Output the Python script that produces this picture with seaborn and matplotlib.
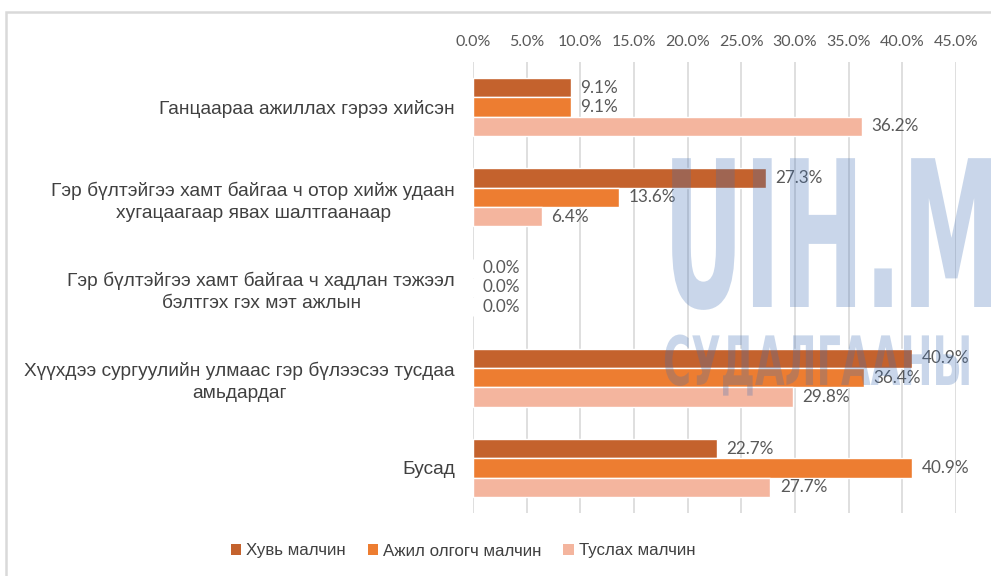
import matplotlib
matplotlib.use("Agg")
import matplotlib.pyplot as plt
from matplotlib.patches import Rectangle
from matplotlib.patheffects import AbstractPathEffect
from matplotlib.transforms import Affine2D
from matplotlib.ticker import FuncFormatter, MultipleLocator
import seaborn as sns
import pandas as pd

# Reasons, shares by herder type (percent)
categories = [
    "Ганцаараа ажиллах гэрээ хийсэн",
    "Гэр бүлтэйгээ хамт байгаа ч отор хийж удаан\nхугацаагаар явах шалтгаанаар",
    "Гэр бүлтэйгээ хамт байгаа ч хадлан тэжээл\nбэлтгэх гэх мэт ажлын",
    "Хүүхдээ сургуулийн улмаас гэр бүлээсээ тусдаа\nамьдардаг",
    "Бусад",
]
series_names = ["Хувь малчин", "Ажил олгогч малчин", "Туслах малчин"]
own_herder = [9.1, 27.3, 0.0, 40.9, 22.7]
employer_herder = [9.1, 13.6, 0.0, 36.4, 40.9]
assistant_herder = [36.2, 6.4, 0.0, 29.8, 27.7]
colors = ["#c4622d", "#ed7d31", "#f4b59e"]

rows = []
for name, vals in zip(series_names, [own_herder, employer_herder, assistant_herder]):
    for cat, v in zip(categories, vals):
        rows.append({"category": cat, "series": name, "value": v})
df = pd.DataFrame(rows)


class Condense(AbstractPathEffect):
    """Squeeze glyph outlines horizontally around a fixed pixel x."""

    def __init__(self, sx, x0):
        super().__init__()
        self.sx = sx
        self.x0 = x0

    def draw_path(self, renderer, gc, tpath, affine, rgbFace=None):
        squeeze = Affine2D().translate(-self.x0, 0).scale(self.sx, 1).translate(self.x0, 0)
        renderer.draw_path(gc, tpath, affine + squeeze, rgbFace)


sns.set_theme(style="white")
plt.rcParams["font.family"] = ["Liberation Sans", "DejaVu Sans"]

W, H = 991, 576
fig = plt.figure(figsize=(W / 100, H / 100), dpi=100)
fig.patch.set_facecolor("white")

left, right, top, bottom = 473, 956, 62, 513
ax = fig.add_axes([left / W, 1 - bottom / H, (right - left) / W, (bottom - top) / H])

sns.barplot(data=df, y="category", x="value", hue="series", order=categories,
            hue_order=series_names, palette=colors, orient="h", width=0.64,
            saturation=1, ax=ax, legend=False)

ax.set_xlim(0, 45)
ax.xaxis.set_major_locator(MultipleLocator(5))
ax.xaxis.set_major_formatter(FuncFormatter(lambda x, _: f"{x:.1f}%"))
ax.xaxis.tick_top()
ax.set_xlabel("")
ax.set_ylabel("")
ax.grid(axis="x", color="#d9d9d9", linewidth=1.2)
ax.set_axisbelow(True)
for s in ax.spines.values():
    s.set_visible(False)
ax.tick_params(axis="x", length=0, pad=9, labelsize=11.5, labelcolor="#595959")
ax.tick_params(axis="y", length=0, pad=13, labelsize=13.8, labelcolor="#404040")
for lab in ax.get_xticklabels():
    lab.set_fontfamily(["Lato", "DejaVu Sans"])
for lab in ax.get_yticklabels():
    lab.set_multialignment("center")
    lab.set_linespacing(1.35)

for cont in ax.containers:
    vals = [b.get_width() for b in cont]
    ax.bar_label(cont, labels=[f"{v:.1f}%" for v in vals], padding=7,
                 fontsize=12.3, color="#595959", family=["Lato", "DejaVu Sans"])

# Legend below the plot
handles = [Rectangle((0, 0), 1, 1, facecolor=c, edgecolor="none") for c in colors]
fig.legend(handles, series_names, loc="center", bbox_to_anchor=(463 / W, 1 - 551 / H),
           ncol=3, frameon=False, fontsize=12.2, handlelength=0.6, handleheight=0.6,
           handletextpad=0.3, columnspacing=1.3, labelcolor="#404040")

# Watermark
wm_color = "#3f6fb5"
wm_family = ["DejaVu Sans"]
renderer = fig.canvas.get_renderer()

wm_big = fig.text(663 / W, 1 - 307 / H, "UIH.MN", fontsize=147, fontweight="bold",
                  family=wm_family, color=wm_color, alpha=0.28,
                  ha="left", va="baseline", zorder=5)
probe = fig.text(0, 0, "UIH.", fontsize=147, fontweight="bold", family=wm_family)
sx_big = 239 / probe.get_window_extent(renderer).width
probe.remove()
wm_big.set_path_effects([Condense(sx_big, 663)])

wm_small = fig.text(663 / W, 1 - 385 / H, "СУДАЛГААНЫ", fontsize=49, fontweight="bold",
                    family=wm_family, color=wm_color, alpha=0.28,
                    ha="left", va="baseline", zorder=5)
sx_small = 309 / wm_small.get_window_extent(renderer).width
wm_small.set_path_effects([Condense(sx_small, 663)])

# Outer frame
fig.add_artist(Rectangle((6 / W, -0.2), 1.5, 1.2 - 12 / H, transform=fig.transFigure,
                         facecolor="none", edgecolor="#d9d9d9", linewidth=1.8, zorder=0))

fig.savefig("out.png", dpi=100)
